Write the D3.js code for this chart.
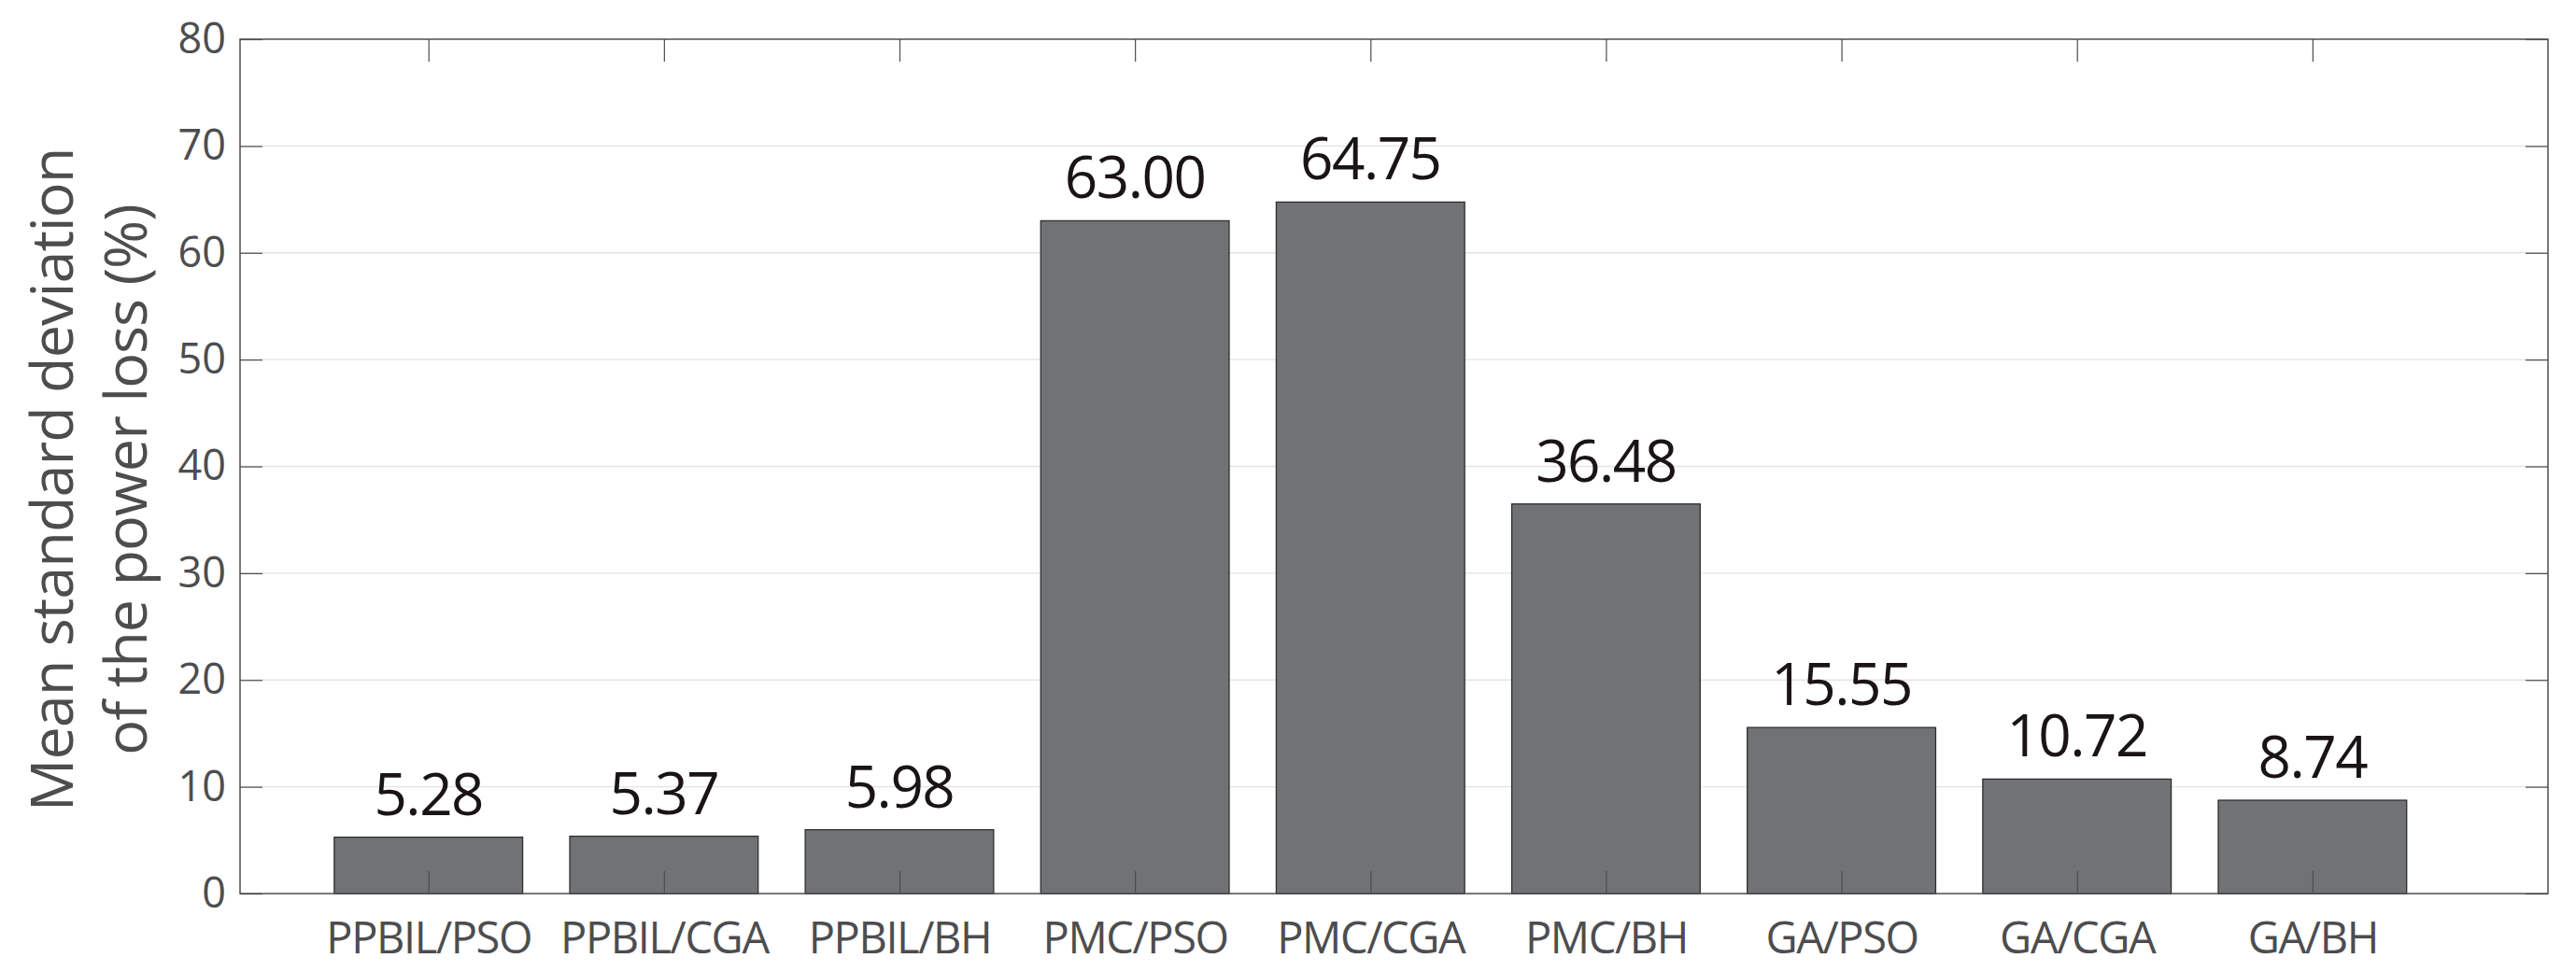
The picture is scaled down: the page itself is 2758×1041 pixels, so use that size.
<!DOCTYPE html>
<html>
<head>
<meta charset="utf-8">
<script src="https://cdn.jsdelivr.net/npm/d3@7"></script>
<style>
  html, body { margin: 0; padding: 0; background: #fff; }
  svg text { font-family: "Open Sans", "Noto Sans", sans-serif; }
</style>
</head>
<body>
<div id="chart"></div>
<script>
// bar chart - mean std dev of power loss

const categories = ['PPBIL/PSO', 'PPBIL/CGA', 'PPBIL/BH', 'PMC/PSO', 'PMC/CGA', 'PMC/BH', 'GA/PSO', 'GA/CGA', 'GA/BH'];
const values = [5.28, 5.37, 5.98, 63.00, 64.75, 36.48, 15.55, 10.72, 8.74];
const yTicks = [0, 10, 20, 30, 40, 50, 60, 70, 80];
const yTitle = ['Mean standard deviation', 'of the power loss (%)'];

const width = 2758;
const height = 1041;
const plotL = 257, plotR = 2728, plotT = 42, plotB = 957;
const axisColor = '#4d4d4f';

const svg = d3.select('#chart')
  .append('svg')
  .attr('width', width)
  .attr('height', height);

// bars sit at 1..9, axis runs a bit past them
const x = d3.scaleLinear()
  .domain([0.2, 10])
  .range([plotL, plotR]);

const y = d3.scaleLinear()
  .domain([0, 80])
  .range([plotB, plotT]);

const barW = x(1.8) - x(1);

// grid
svg.append('g')
  .selectAll('line')
  .data(yTicks.filter(d => d > 0 && d < 80))
  .enter()
  .append('line')
  .attr('x1', plotL)
  .attr('x2', plotR)
  .attr('y1', d => y(d))
  .attr('y2', d => y(d))
  .attr('stroke', '#e3e3e3')
  .attr('stroke-width', 1.3);

// bars
svg.append('g')
  .selectAll('rect')
  .data(values)
  .enter()
  .append('rect')
  .attr('x', (d, i) => x(i + 1) - barW / 2)
  .attr('y', d => y(d))
  .attr('width', barW)
  .attr('height', d => y(0) - y(d))
  .attr('fill', '#717274')
  .attr('stroke', '#2e2e30')
  .attr('stroke-width', 1.3);

function styleAxis(g) {
  g.select('.domain').remove();
  g.selectAll('.tick line').attr('stroke', axisColor).attr('stroke-width', 1.2);
  g.selectAll('.tick text').attr('fill', axisColor).attr('font-family', '"Open Sans", sans-serif');
}

const idx = categories.map((c, i) => i + 1);

// bottom axis, ticks pointing in
svg.append('g')
  .attr('transform', `translate(0,${plotB})`)
  .call(d3.axisBottom(x).tickValues(idx).tickFormat(d => categories[d - 1]).tickSizeInner(-24).tickSizeOuter(0).tickPadding(31))
  .call(styleAxis)
  .call(g => g.selectAll('.tick text').attr('font-size', 47).attr('letter-spacing', -1.4));

// top axis, ticks only
svg.append('g')
  .attr('transform', `translate(0,${plotT})`)
  .call(d3.axisTop(x).tickValues(idx).tickFormat('').tickSizeInner(-24).tickSizeOuter(0))
  .call(styleAxis);

// left axis
svg.append('g')
  .attr('transform', `translate(${plotL},0)`)
  .call(d3.axisLeft(y).tickValues(yTicks).tickSizeInner(-24).tickSizeOuter(0).tickPadding(15))
  .call(styleAxis)
  .call(g => g.selectAll('.tick text').attr('font-size', 45));

// right axis, ticks only
svg.append('g')
  .attr('transform', `translate(${plotR},0)`)
  .call(d3.axisRight(y).tickValues(yTicks).tickFormat('').tickSizeInner(-24).tickSizeOuter(0))
  .call(styleAxis);

// frame
svg.append('rect')
  .attr('x', plotL)
  .attr('y', plotT)
  .attr('width', plotR - plotL)
  .attr('height', plotB - plotT)
  .attr('fill', 'none')
  .attr('stroke', axisColor)
  .attr('stroke-width', 1.5);

// value labels
svg.append('g')
  .selectAll('text')
  .data(values)
  .enter()
  .append('text')
  .attr('x', (d, i) => x(i + 1))
  .attr('y', d => y(d) - 24)
  .attr('text-anchor', 'middle')
  .attr('font-size', 62)
  .attr('letter-spacing', -1.5)
  .attr('fill', '#1a1414')
  .text(d => d.toFixed(2));

// y title
const title = svg.append('text')
  .attr('transform', 'rotate(-90)')
  .attr('text-anchor', 'middle')
  .attr('font-size', 63)
  .attr('letter-spacing', -1)
  .attr('fill', axisColor);

title.selectAll('tspan')
  .data(yTitle)
  .enter()
  .append('tspan')
  .attr('x', -514)
  .attr('y', (d, i) => i === 0 ? 78 : 157)
  .text(d => d);
</script>
</body>
</html>
